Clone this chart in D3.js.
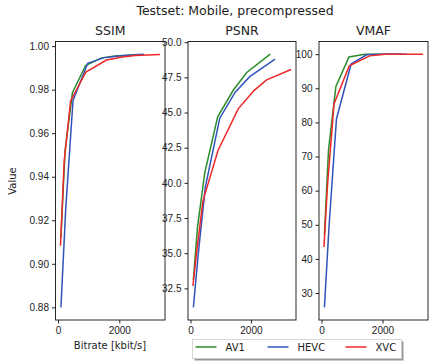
<!DOCTYPE html>
<html lang="en">
<head>
    <meta charset="UTF-8">
    <title>Testset: Mobile, precompressed</title>
    <script src="https://d3js.org/d3.v7.min.js"></script>
    <style>
        body { margin: 0; background: white; }
        svg { font-family: "DejaVu Sans", sans-serif; }
        .tick text { font-size: 10px; fill: #222; }
        .tick line { stroke: #222; }
        .domain { display: none; }
    </style>
</head>
<body>
    <svg id="chart" width="432" height="364"></svg>

    <script>
        // codecs and their bitrates (kbit/s)
        const codecs = ["AV1", "HEVC", "XVC"];
        const colors = ["#2a8c2a", "#3154bc", "#ef2727"];

        const av1Bitrate  = [95, 230, 470, 900, 1420, 1860, 2640];
        const hevcBitrate = [95, 250, 490, 970, 1480, 1960, 2800];
        const xvcBitrate  = [80, 200, 410, 910, 1580, 2100, 2520, 3330];

        const av1Ssim  = [0.912, 0.952, 0.9786, 0.9911, 0.9946, 0.9955, 0.9962];
        const hevcSsim = [0.880, 0.925, 0.975, 0.9921, 0.9946, 0.9955, 0.9963];
        const xvcSsim  = [0.9083, 0.947, 0.9748, 0.9881, 0.9936, 0.9950, 0.9957, 0.9962];

        const av1Psnr  = [33.1, 36.8, 40.7, 44.7, 46.6, 47.85, 49.15];
        const hevcPsnr = [31.15, 34.8, 39.7, 44.6, 46.45, 47.55, 48.8];
        const xvcPsnr  = [32.67, 35.0, 38.7, 42.3, 45.26, 46.56, 47.32, 48.06];

        const av1Vmaf  = [47, 72, 90.5, 99.2, 100, 100, 100];
        const hevcVmaf = [25.8, 50, 81, 97.1, 99.8, 100, 100];
        const xvcVmaf  = [43.5, 62, 85.4, 96.6, 99.5, 100, 100, 100];

        const xTicks = [0, 2000];
        const ssimTicks = [0.88, 0.90, 0.92, 0.94, 0.96, 0.98, 1.00];
        const psnrTicks = [32.5, 35.0, 37.5, 40.0, 42.5, 45.0, 47.5, 50.0];
        const vmafTicks = [30, 40, 50, 60, 70, 80, 90, 100];

        const bitrates = [av1Bitrate, hevcBitrate, xvcBitrate];
        const panels = [
            { title: "SSIM", series: [av1Ssim, hevcSsim, xvcSsim], ticks: ssimTicks, fmt: d3.format(".2f"), left: 55.5, right: 165 },
            { title: "PSNR", series: [av1Psnr, hevcPsnr, xvcPsnr], ticks: psnrTicks, fmt: d3.format(".1f"), left: 188, right: 296 },
            { title: "VMAF", series: [av1Vmaf, hevcVmaf, xvcVmaf], ticks: vmafTicks, fmt: d3.format("d"), left: 319, right: 428 }
        ];
        const plotTop = 41.5, plotBottom = 320;

        const svg = d3.select("#chart");

        // matplotlib style 5% margins
        function padded(lo, hi) {
            const m = (hi - lo) * 0.05;
            return [lo - m, hi + m];
        }

        const allX = bitrates.flat();
        const xDomain = padded(d3.min(allX), d3.max(allX));

        svg.append("text")
            .attr("x", 235).attr("y", 15)
            .attr("text-anchor", "middle")
            .style("font-size", "12.5px").style("fill", "#222")
            .text("Testset: Mobile, precompressed");

        panels.forEach((p, i) => {
            const x = d3.scaleLinear().domain(xDomain).range([p.left, p.right]);
            const vals = p.series.flat();
            const y = d3.scaleLinear().domain(padded(d3.min(vals), d3.max(vals))).range([plotBottom, plotTop]);

            const g = svg.append("g");

            g.append("g")
                .attr("transform", `translate(0,${plotBottom})`)
                .call(d3.axisBottom(x).tickValues(xTicks).tickFormat(d3.format("d")).tickSize(3.5).tickPadding(3));

            g.append("g")
                .attr("transform", `translate(${p.left},0)`)
                .call(d3.axisLeft(y).tickValues(p.ticks).tickFormat(p.fmt).tickSize(3.5).tickPadding(3));

            const line = d3.line();
            p.series.forEach((s, k) => {
                g.append("path")
                    .attr("d", line(s.map((v, j) => [x(bitrates[k][j]), y(v)])))
                    .attr("fill", "none")
                    .attr("stroke", colors[k])
                    .attr("stroke-width", 1.5);
            });

            g.append("rect")
                .attr("x", p.left).attr("y", plotTop)
                .attr("width", p.right - p.left).attr("height", plotBottom - plotTop)
                .attr("fill", "none").attr("stroke", "#111").attr("stroke-width", 0.9);

            g.append("text")
                .attr("x", (p.left + p.right) / 2).attr("y", 35)
                .attr("text-anchor", "middle")
                .style("font-size", "12.5px").style("fill", "#222")
                .text(p.title);
        });

        // axis labels
        svg.append("text")
            .attr("x", 110).attr("y", 349)
            .attr("text-anchor", "middle")
            .style("font-size", "10px").style("fill", "#222")
            .text("Bitrate [kbit/s]");

        svg.append("text")
            .attr("transform", "translate(16,181) rotate(-90)")
            .attr("text-anchor", "middle")
            .style("font-size", "10px").style("fill", "#222")
            .text("Value");

        // legend with shadow
        const lg = svg.append("g").attr("transform", "translate(192.5,339.5)");
        lg.append("rect").attr("x", 2).attr("y", 2).attr("width", 209).attr("height", 19).attr("fill", "#999");
        lg.append("rect").attr("width", 209).attr("height", 19).attr("fill", "white").attr("stroke", "#ccc").attr("stroke-width", 0.8);
        const itemX = [3, 75, 153];
        codecs.forEach((c, k) => {
            lg.append("line")
                .attr("x1", itemX[k]).attr("x2", itemX[k] + 21)
                .attr("y1", 7.5).attr("y2", 7.5)
                .attr("stroke", colors[k]).attr("stroke-width", 1.5);
            lg.append("text")
                .attr("x", itemX[k] + 30).attr("y", 11)
                .style("font-size", "10px").style("fill", "#222")
                .text(c);
        });
    </script>
</body>
</html>
